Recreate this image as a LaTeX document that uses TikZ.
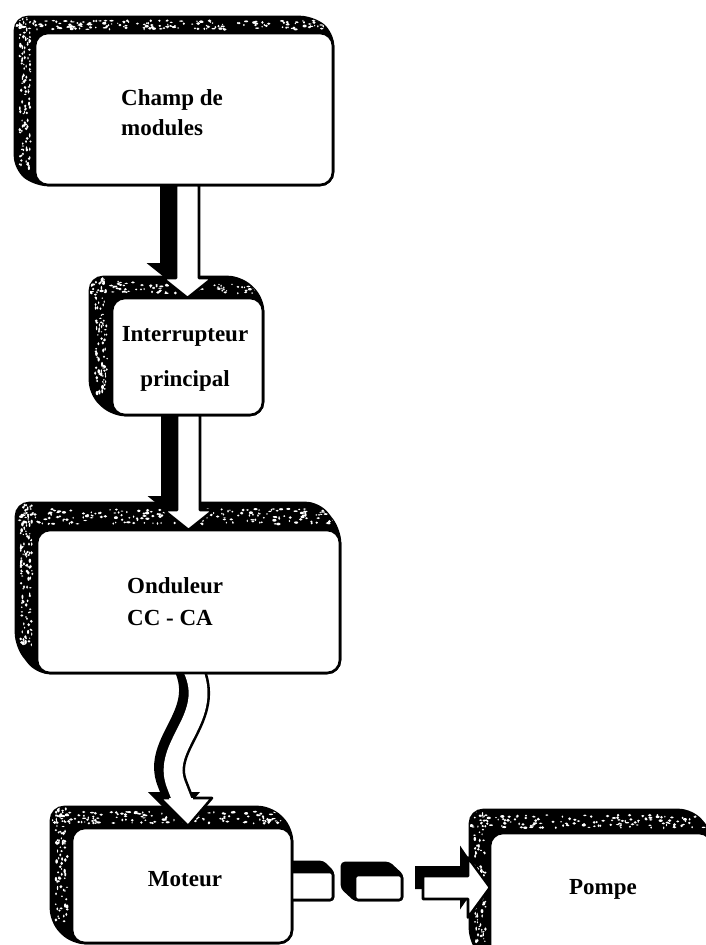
\documentclass[tikz,border=0pt]{standalone}
\usepackage{fontspec}
\setmainfont{Liberation Serif}
\usetikzlibrary{calc}
\pgfdeclarelayer{back}
\pgfdeclarelayer{bg}
\pgfsetlayers{back,bg,main}
\tikzset{
  frontbox/.style={draw, line width=2.6pt, rounded corners=13pt, fill=white, inner sep=0pt, outer sep=0pt},
  lbl/.style={font=\bfseries\fontsize{23}{30}\selectfont, inner sep=0pt},
  edge/.style={draw=black, line width=2.6pt, line join=round},
}
% #1 node, #2 dx, #3 dy, #4 radius, #5 dots top, #6 dots left
\newcommand\boxshadow[6]{%
  \coordinate (sA) at ($(#1.north west)+(#2,#3)$);
  \coordinate (sB) at ($(#1.north east)+(#2,#3)$);
  \coordinate (sC) at ($(#1.south west)+(#2,#3)$);
  \coordinate (tB) at ($(#1.north east)+(0,#3)$);
  \coordinate (tC) at ($(#1.north west)+(#2,0)$);
  \coordinate (lB) at ($(#1.north west)+(0,#3)$);
  \filldraw[black, line width=2.6pt, rounded corners=#4pt] (sA) -- (sB) -- (#1.north east) -- (#1.south east) -- (#1.south west) -- (sC) -- cycle;
  \begin{scope}
    \clip[rounded corners=#4pt] (sA) -- (sB) -- (#1.north east) -- (#1.south east) -- (#1.south west) -- (sC) -- cycle;
    \foreach \k in {1,...,#5}{%
      \pgfmathsetmacro\rx{rnd}\pgfmathsetmacro\ry{0.22+0.56*rnd}%
      \pgfmathsetmacro\ra{0.6+1.6*rnd}\pgfmathsetmacro\rb{0.6+0.9*rnd}%
      \fill[white] ($(sA)!\rx!(tB)+\ry*(tC)-\ry*(sA)$) ellipse[x radius=\ra pt, y radius=\rb pt];}
    \foreach \k in {1,...,#6}{%
      \pgfmathsetmacro\rx{rnd}\pgfmathsetmacro\ry{0.22+0.56*rnd}%
      \pgfmathsetmacro\ra{0.6+0.9*rnd}\pgfmathsetmacro\rb{0.6+1.6*rnd}%
      \fill[white] ($(sA)!\rx!(sC)+\ry*(lB)-\ry*(sA)$) ellipse[x radius=\ra pt, y radius=\rb pt];}
  \end{scope}}
% small shadow, no speckles
\newcommand\smallshadow[3]{%
  \filldraw[black, line width=2.6pt, rounded corners=3pt] ($(#1.north west)+(#2,#3)$) -- ($(#1.north east)+(#2,#3)$) -- (#1.north east) -- (#1.south east) -- (#1.south west) -- ($(#1.south west)+(#2,#3)$) -- cycle;}
% straight block arrow pointing down: #1 start, #2 tip, #3 dx, #4 dy (shadow)
\newcommand\blockdown[4]{%
  \fill[black] ($(#1)+({-11.5+(#3)},{#4})$) -- ($(#1)+({11.5+(#3)},{#4})$) -- ($(#2)+({11.5+(#3)},{-20+(#4)})$) -- ($(#2)+({25+(#3)},{-20+(#4)})$) -- ($(#2)+({#3},{#4})$) -- ($(#2)+({-25+(#3)},{-20+(#4)})$) -- ($(#2)+({-11.5+(#3)},{-20+(#4)})$) -- cycle;
  \filldraw[fill=white, edge] ($(#1)+(-11.5,0)$) -- ($(#1)+(11.5,0)$) -- ($(#2)+(11.5,-20)$) -- ($(#2)+(25,-20)$) -- (#2) -- ($(#2)+(-25,-20)$) -- ($(#2)+(-11.5,-20)$) -- cycle;}
% straight block arrow pointing right
\newcommand\blockright[4]{%
  \fill[black] ($(#1)+({#3},{-11.5+(#4)})$) -- ($(#2)+({-22+(#3)},{-11.5+(#4)})$) -- ($(#2)+({-22+(#3)},{-32+(#4)})$) -- ($(#2)+({#3},{#4})$) -- ($(#2)+({-22+(#3)},{32+(#4)})$) -- ($(#2)+({-22+(#3)},{11.5+(#4)})$) -- ($(#1)+({#3},{11.5+(#4)})$) -- cycle;
  \filldraw[fill=white, edge] ($(#1)+(0,-11.5)$) -- ($(#2)+(-22,-11.5)$) -- ($(#2)+(-22,-30)$) -- (#2) -- ($(#2)+(-22,30)$) -- ($(#2)+(-22,11.5)$) -- ($(#1)+(0,11.5)$) -- cycle;}
\newcommand\wavyshaft[3]{%
  \draw[#3] ($(w3s)+(#1,#2)$) .. controls ($(w3c1)+(#1,#2)$) and ($(w3c2)+(#1,#2)$) .. ($(w3m)+(#1,#2)$) -- ($(w3e)+(#1,#2)$);}
\begin{document}
\begin{tikzpicture}[x=1pt,y=-1pt]
\useasboundingbox (0,0) rectangle (705,945);
\begin{pgfonlayer}{back}
  \fill[white] (0,0) rectangle (705,945);
\end{pgfonlayer}
\pgfmathsetseed{4242}
% shaft stub and coupling (drawn first, under the motor)
\node[frontbox, rounded corners=3pt, minimum width=48, minimum height=28] (stub) at (309,886) {};
\node[frontbox, rounded corners=3pt, minimum width=47, minimum height=25] (coupl) at (378.5,887.5) {};
% boxes
\node[frontbox, minimum width=298, minimum height=152] (champ) at (184,109) {};
\node[frontbox, minimum width=151, minimum height=117] (inter) at (187.5,356.5) {};
\node[frontbox, minimum width=303, minimum height=143] (ond) at (188.5,601.5) {};
\node[frontbox, minimum width=220, minimum height=115] (mot) at (182,885.5) {};
\node[frontbox, minimum width=222, minimum height=132] (pompe) at (601,899) {};
% labels
\node[lbl, align=left, anchor=west] (champt) at (121,113) {Champ de\\modules};
\node[lbl, align=center] (intert) at (185,359) {Interrupteur\\[15pt]principal};
\node[lbl, align=left, anchor=west, font=\bfseries\fontsize{23}{32}\selectfont] (ondt) at (127,602) {Onduleur\\CC - CA};
\node[lbl] (mott) at (185,879) {Moteur};
\node[lbl] (pompet) at (603,889) {Pompe};
% connector coordinates
\coordinate (a1s) at (inter.north |- champ.south);
\coordinate (a2s) at (ond.north |- inter.south);
\coordinate (w3s) at ($(ond.south)+(3.5,-5)$);
\coordinate (w3c1) at ($(ond.south)+(27.5,45)$);
\coordinate (w3c2) at ($(ond.south)+(-28.5,72)$);
\coordinate (w3m) at ($(ond.south)+(-12.5,112)$);
\coordinate (w3e) at ($(ond.south)+(-5.5,130)$);
\coordinate (h3l) at ($(mot.north)+(-13,-30)$);
\coordinate (h3bl) at ($(mot.north)+(-22,-30)$);
\coordinate (h3t) at ($(mot.north)+(6,-2)$);
\coordinate (h3br) at ($(mot.north)+(30,-30)$);
\coordinate (h3r) at ($(mot.north)+(11,-30)$);
\coordinate (hs) at ($(coupl.east)+(21,0)$);
\coordinate (ht) at (pompe.west |- hs);
\begin{pgfonlayer}{bg}
  \boxshadow{champ}{-20}{-16}{13}{190}{120}
  \boxshadow{inter}{-22}{-21}{13}{100}{90}
  \boxshadow{ond}{-21}{-27}{13}{220}{120}
  \boxshadow{mot}{-21}{-21}{13}{150}{90}
  \boxshadow{pompe}{-20}{-23}{13}{150}{80}
  \smallshadow{stub}{-10}{-10}
  \smallshadow{coupl}{-13}{-12}
  % arrows
  \blockdown{a1s}{inter.north}{-16}{-15}
  \blockdown{a2s}{ond.north}{-16}{-14}
  % wavy arrow: shadow
  \wavyshaft{-7}{-3}{line width=24pt, black}
  \fill[black] ($(h3l)+(-12,-6)$) -- ($(h3bl)+(-12,-6)$) -- ($(h3t)+(-12,-6)$) -- ($(h3br)+(-12,-6)$) -- ($(h3r)+(-12,-6)$) -- cycle;
  % wavy arrow: front
  \wavyshaft{0}{0}{line width=24pt, black}
  \wavyshaft{0}{0}{line width=18.8pt, white}
  \fill[white] (h3l) -- (h3bl) -- (h3t) -- (h3br) -- (h3r) -- cycle;
  \draw[edge] (h3l) -- (h3bl) -- (h3t) -- (h3br) -- (h3r);
  % arrow into the pump
  \blockright{hs}{ht}{-8}{-10}
\end{pgfonlayer}
\end{tikzpicture}
\end{document}
